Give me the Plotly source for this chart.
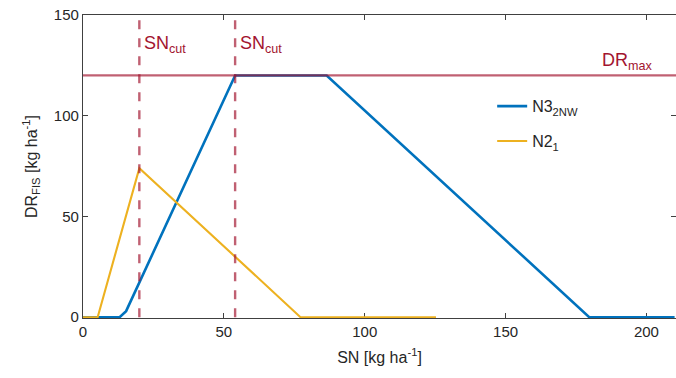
import plotly.graph_objects as go

# Fuzzy-inference drain rate curves versus soil nitrogen
sn_n3 = [0, 13, 15.3, 54, 86.5, 179.7, 210]
dr_n3 = [0, 0, 3, 120, 120, 0, 0]

sn_n2 = [0, 5.2, 20, 77.2, 125.3]
dr_n2 = [0, 0, 74, 0, 0]

sn_cut = [20, 54]
dr_max = 120
x_limits = [0, 210.5]
y_limits = [-0.4, 150]
x_ticks = [0, 50, 100, 150, 200]
y_ticks = [0, 50, 100, 150]

BLUE = "#0072BD"
YELLOW = "#EDB120"
RED = "rgba(162,20,47,0.68)"
RED_TXT = "#A2142F"
FONT = "Liberation Sans, Arial, sans-serif"
INK = "#262626"

fig = go.Figure()
fig.add_trace(go.Scatter(x=sn_n3, y=dr_n3, mode="lines", name="N3<sub>2NW</sub>",
                         legendgroup="a", line=dict(color=BLUE, width=2.6)))
fig.add_trace(go.Scatter(x=sn_n2, y=dr_n2, mode="lines", name="N2<sub>1</sub>",
                         legendgroup="b", line=dict(color=YELLOW, width=2.1)))

# maximum drain rate
fig.add_trace(go.Scatter(x=x_limits, y=[dr_max, dr_max], mode="lines", showlegend=False,
                         line=dict(color=RED, width=2.2), hoverinfo="skip"))
# cut-off values
for xc in sn_cut:
    fig.add_trace(go.Scatter(x=[xc, xc], y=[0, 150], mode="lines", showlegend=False,
                             line=dict(color=RED, width=2.4, dash="dash"), hoverinfo="skip"))
    fig.add_annotation(x=xc + 0.9, y=142, text="SN<sub>cut</sub>", showarrow=False,
                       xanchor="left", yanchor="top",
                       font=dict(family=FONT, size=18, color=RED_TXT))

fig.add_annotation(x=202.8, y=120.4, text="DR<sub>max</sub>", showarrow=False,
                   xanchor="right", yanchor="bottom",
                   font=dict(family=FONT, size=18, color=RED_TXT))

axis_common = dict(showline=True, linecolor="#404040", linewidth=1.2, mirror="ticks",
                   ticks="inside", ticklen=5, tickcolor="#404040", showgrid=False,
                   zeroline=False, layer="below traces",
                   tickfont=dict(family=FONT, size=15, color=INK))

fig.update_xaxes(range=x_limits, tickvals=x_ticks, **axis_common,
                 title=dict(text="SN [kg ha<sup>-1</sup>]", standoff=12,
                            font=dict(family=FONT, size=16, color=INK)))
fig.update_yaxes(range=y_limits, tickvals=y_ticks, **axis_common,
                 title=dict(text="DR<sub>FIS</sub> [kg ha<sup>-1</sup>]", standoff=12,
                            font=dict(family=FONT, size=16, color=INK)))

fig.update_layout(
    width=676, height=378,
    margin=dict(l=83, r=0, t=15, b=60),
    plot_bgcolor="white", paper_bgcolor="white",
    legend=dict(x=0.69, y=0.755, xanchor="left", yanchor="top",
                bgcolor="rgba(0,0,0,0)", font=dict(family=FONT, size=16, color=INK),
                tracegroupgap=11),
)

fig.write_html("out.html")
